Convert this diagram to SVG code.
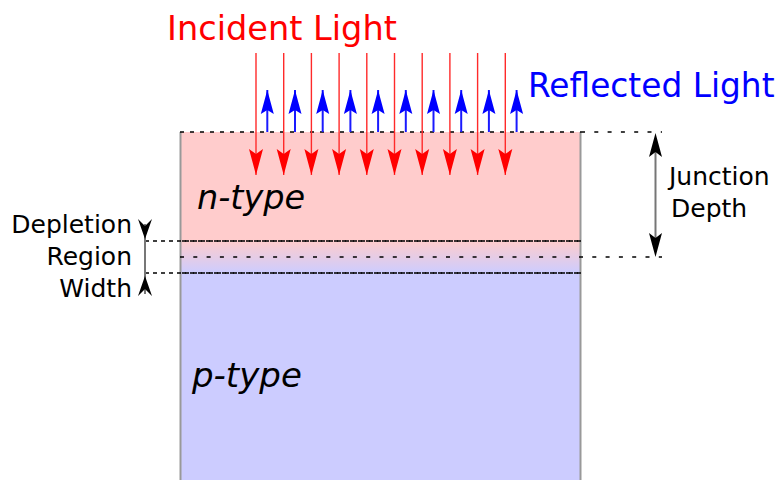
<svg xmlns="http://www.w3.org/2000/svg" width="780" height="480" viewBox="0 0 780 480">
<style>
.lbl{font-family:"DejaVu Sans","Verdana",sans-serif;}
.dot{stroke:#000;stroke-width:1.6;fill:none;}
.red{stroke:#ff2a2a;stroke-width:1.4;marker-end:url(#hr);}
.blue{stroke:#1a1aff;stroke-width:2;marker-end:url(#hb);}
.tip{stroke:#000;stroke-width:0.01;}
</style>
<defs>
<linearGradient id="dep" x1="0" y1="241" x2="0" y2="273" gradientUnits="userSpaceOnUse">
<stop offset="0" stop-color="#ffcccc"/>
<stop offset="1" stop-color="#ccccff"/>
</linearGradient>
<marker id="hr" markerUnits="userSpaceOnUse" markerWidth="30" markerHeight="16" refX="26" refY="7" orient="auto" overflow="visible">
<path d="M26,7 L0,0 L5,7 L0,14 Z" fill="#ff0000"/>
</marker>
<marker id="hb" markerUnits="userSpaceOnUse" markerWidth="30" markerHeight="16" refX="24" refY="6.5" orient="auto" overflow="visible">
<path d="M24,6.5 L0,0 L4,6.5 L0,13 Z" fill="#0000ff"/>
</marker>
<marker id="hk" markerUnits="userSpaceOnUse" markerWidth="30" markerHeight="16" refX="24" refY="6.5" orient="auto" overflow="visible">
<path d="M24,6.5 L0,0 L5,6.5 L0,13 Z" fill="#000"/>
</marker>
<marker id="hs" markerUnits="userSpaceOnUse" markerWidth="30" markerHeight="16" refX="20" refY="7" orient="auto" overflow="visible">
<path d="M20,7 L0,0 L7,7 L0,14 Z" fill="#000"/>
</marker>
</defs>

<g id="n-type">
<rect x="180" y="132" width="401" height="109" fill="#ffcccc"/>
<text class="lbl" x="197" y="209" font-size="33.5" font-style="italic" fill="#000">n-type</text>
</g>
<g id="depletion-region">
<rect x="180" y="241" width="401" height="32" fill="url(#dep)"/>
</g>
<g id="p-type">
<rect x="180" y="273" width="401" height="207" fill="#ccccff"/>
<text class="lbl" x="192" y="387" font-size="34" font-style="italic" fill="#000">p-type</text>
</g>
<g id="edges">
<line x1="180.5" y1="132" x2="180.5" y2="480" stroke="#999" stroke-width="2"/>
<line x1="580.5" y1="132" x2="580.5" y2="480" stroke="#999" stroke-width="2"/>
</g>

<g id="guides">
<line class="dot" x1="180" y1="132" x2="581" y2="132" stroke-dasharray="4,6"/>
<line class="dot" x1="581" y1="132" x2="662" y2="132" stroke-dasharray="4,9.3"/>
<line class="dot" x1="180" y1="257" x2="662" y2="257" stroke-dasharray="4,9.3"/>
<line class="dot" x1="145" y1="241" x2="581" y2="241" stroke-dasharray="4,4"/>
<line class="dot" x1="180" y1="241" x2="581" y2="241" stroke-dasharray="4,4" stroke-dashoffset="6"/>
<line class="dot" x1="145" y1="273" x2="581" y2="273" stroke-dasharray="4,4"/>
<line class="dot" x1="180" y1="273" x2="581" y2="273" stroke-dasharray="4,4" stroke-dashoffset="6"/>
</g>

<g id="connectors">
<g id="incident-rays">
<line class="red" x1="256" y1="53" x2="256" y2="175"/>
<line class="red" x1="283.7" y1="53" x2="283.7" y2="175"/>
<line class="red" x1="311.4" y1="53" x2="311.4" y2="175"/>
<line class="red" x1="339.1" y1="53" x2="339.1" y2="175"/>
<line class="red" x1="366.8" y1="53" x2="366.8" y2="175"/>
<line class="red" x1="394.5" y1="53" x2="394.5" y2="175"/>
<line class="red" x1="422.2" y1="53" x2="422.2" y2="175"/>
<line class="red" x1="449.9" y1="53" x2="449.9" y2="175"/>
<line class="red" x1="477.6" y1="53" x2="477.6" y2="175"/>
<line class="red" x1="505.3" y1="53" x2="505.3" y2="175"/>
</g>
<g id="reflected-rays">
<line class="blue" x1="267.3" y1="132" x2="267.3" y2="90"/>
<line class="blue" x1="295" y1="132" x2="295" y2="90"/>
<line class="blue" x1="322.7" y1="132" x2="322.7" y2="90"/>
<line class="blue" x1="350.4" y1="132" x2="350.4" y2="90"/>
<line class="blue" x1="378.1" y1="132" x2="378.1" y2="90"/>
<line class="blue" x1="405.8" y1="132" x2="405.8" y2="90"/>
<line class="blue" x1="433.5" y1="132" x2="433.5" y2="90"/>
<line class="blue" x1="461.2" y1="132" x2="461.2" y2="90"/>
<line class="blue" x1="488.9" y1="132" x2="488.9" y2="90"/>
<line class="blue" x1="516.6" y1="132" x2="516.6" y2="90"/>
</g>
<g id="junction-depth-arrow">
<line x1="655.5" y1="145" x2="655.5" y2="245" stroke="#777" stroke-width="2"/>
<path class="tip" d="M655.5,195 L655.5,133" marker-end="url(#hk)"/>
<path class="tip" d="M655.5,195 L655.5,257" marker-end="url(#hk)"/>
</g>
<g id="depletion-width-arrow">
<line x1="145" y1="224" x2="145" y2="294" stroke="#777" stroke-width="2"/>
<path class="tip" d="M145,210 L145,239" marker-end="url(#hs)"/>
<path class="tip" d="M145,305 L145,276" marker-end="url(#hs)"/>
</g>
</g>

<g id="labels">
<text class="lbl" x="167" y="40" font-size="33.6" fill="#ff0000">Incident Light</text>
<text class="lbl" x="528" y="97" font-size="32.8" fill="#0000ff">Reflected Light</text>
<text class="lbl" x="669" y="185" font-size="25" fill="#000">Junction</text>
<text class="lbl" x="671" y="217" font-size="25" fill="#000">Depth</text>
<text class="lbl" x="132" y="233" font-size="25" fill="#000" text-anchor="end">Depletion</text>
<text class="lbl" x="132" y="265" font-size="25" fill="#000" text-anchor="end">Region</text>
<text class="lbl" x="132" y="297" font-size="25" fill="#000" text-anchor="end">Width</text>
</g>
</svg>
